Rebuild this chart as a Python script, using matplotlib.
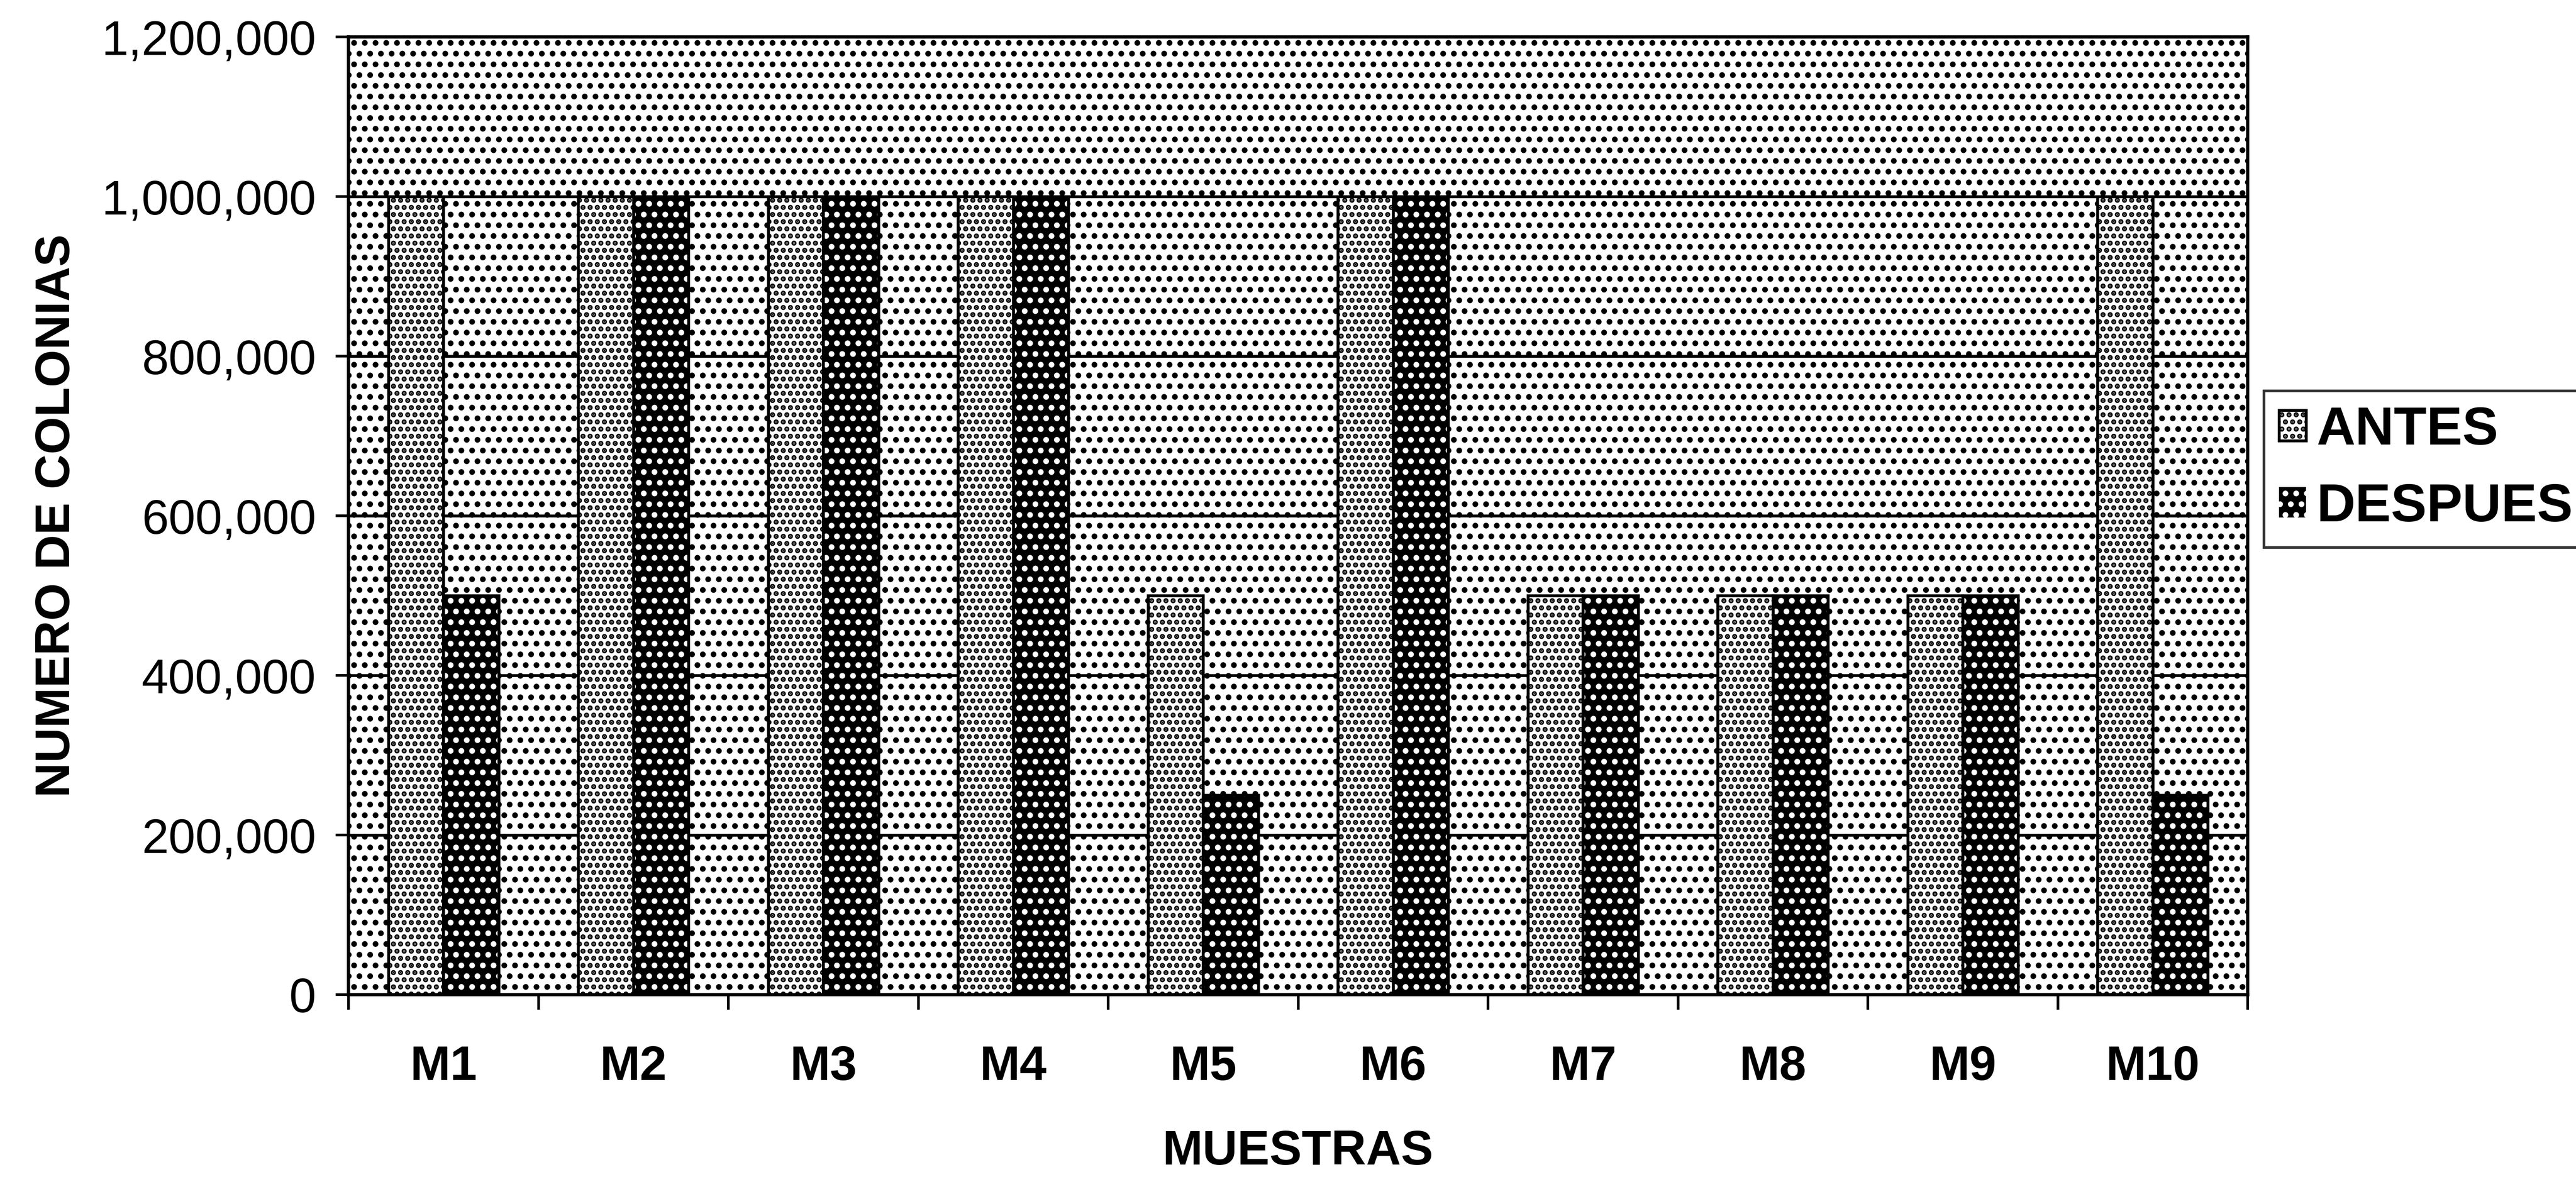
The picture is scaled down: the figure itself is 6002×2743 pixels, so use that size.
import matplotlib
matplotlib.use("Agg")
import matplotlib.pyplot as plt
import numpy as np
from matplotlib.ticker import FuncFormatter, FixedLocator
from matplotlib.patches import Rectangle

plt.rcParams['font.family'] = ['Liberation Sans', 'DejaVu Sans']
plt.rcParams['hatch.linewidth'] = 2.0

categories = ["M1", "M2", "M3", "M4", "M5", "M6", "M7", "M8", "M9", "M10"]
antes = [1000000, 1000000, 1000000, 1000000, 500000, 1000000, 500000, 500000, 500000, 1000000]
despues = [500000, 1000000, 1000000, 1000000, 250000, 1000000, 500000, 500000, 500000, 250000]
series_names = ["ANTES", "DESPUES"]
y_ticks = [0, 200000, 400000, 600000, 800000, 1000000, 1200000]

DPI = 300
fig = plt.figure(figsize=(6002 / DPI, 2743 / DPI), dpi=DPI)
ax = fig.add_axes([812 / 6002, 1 - 2318 / 2743, (5237 - 812) / 6002, (2318 - 86) / 2743])

# dotted plot-area background (Excel pattern fill look)
ax.set_facecolor("white")
ax.add_patch(Rectangle((0, 0), 1, 1, transform=ax.transAxes, facecolor="white",
                       edgecolor="black", hatch="..", linewidth=0, zorder=0))

x = np.arange(len(categories))
w = 0.29
ax.bar(x - w / 2, antes, w, color="white", edgecolor="black", hatch="...",
       linewidth=1.6, label=series_names[0], zorder=3)
ax.bar(x + w / 2, despues, w, color="black", edgecolor="white", hatch="..",
       linewidth=0, label=series_names[1], zorder=3)
ax.bar(x + w / 2, despues, w, fill=False, edgecolor="black", linewidth=1.6, zorder=4)

ax.set_ylim(0, 1200000)
ax.set_xlim(-0.5, len(categories) - 0.5)
ax.yaxis.set_major_locator(FixedLocator(y_ticks))
ax.yaxis.set_major_formatter(FuncFormatter(lambda v, p: f"{int(v):,}"))
ax.grid(axis="y", color="black", linewidth=1.6, zorder=1)
ax.set_axisbelow(True)

# category boundary ticks, labels at centers
ax.xaxis.set_major_locator(FixedLocator(np.arange(-0.5, len(categories), 1.0)))
ax.xaxis.set_major_formatter(FuncFormatter(lambda v, p: ""))
ax.set_xticks(x, categories, minor=True)
ax.tick_params(axis="x", which="major", direction="out", length=8.4, width=1.5, color="black")
ax.tick_params(axis="x", which="minor", length=0, pad=28, labelsize=27)
for lbl in ax.get_xticklabels(minor=True):
    lbl.set_fontweight("bold")
ax.tick_params(axis="y", which="major", direction="out", length=7.2, width=1.5,
               pad=11, labelsize=27)

for s in ax.spines.values():
    s.set_color("black")
    s.set_linewidth(1.8)
    s.set_zorder(5)

ax.set_xlabel("MUESTRAS", fontsize=27, fontweight="bold", labelpad=22)
ax.set_ylabel("NUMERO DE COLONIAS", fontsize=27, fontweight="bold", labelpad=12)

leg = fig.legend(loc="upper left", bbox_to_anchor=(5275 / 6002, 1 - 911 / 2743),
                 frameon=True, fancybox=False, shadow=False, borderaxespad=0,
                 prop={"size": 30, "weight": "bold"}, handlelength=0.5, handleheight=0.5,
                 handletextpad=0.2, borderpad=0.28, labelspacing=0.5)
leg.get_frame().set_edgecolor("black")
leg.get_frame().set_linewidth(1.5)

fig.savefig("out.png", dpi=DPI, facecolor="white")
